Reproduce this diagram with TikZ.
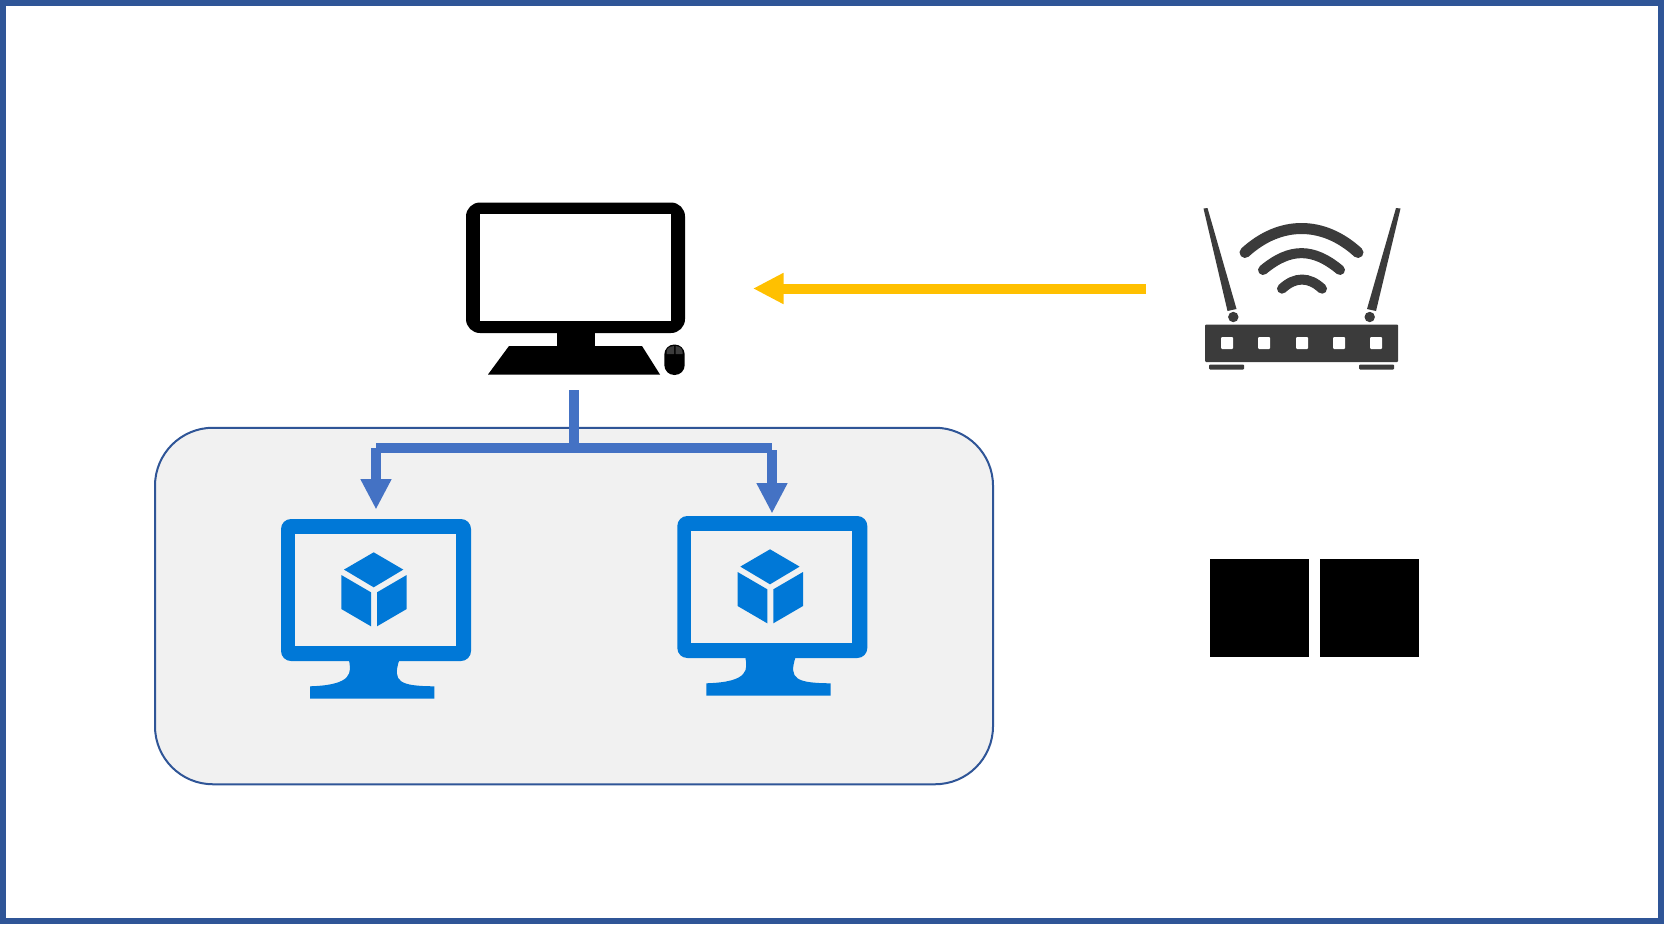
\documentclass[tikz,border=0pt]{standalone}
\usetikzlibrary{arrows.meta,calc}
\definecolor{framecol}{HTML}{2F5597}
\definecolor{panelcol}{HTML}{F1F1F1}
\definecolor{conncol}{HTML}{4472C4}
\definecolor{feedcol}{HTML}{FFC000}
\definecolor{vmcol}{HTML}{0078D7}
\definecolor{routercol}{HTML}{3B3B3B}
\tikzset{
  anchorbox/.style={inner sep=0pt,outer sep=0pt,minimum width=#1},
  panel/.style={draw=framecol,line width=2pt,fill=panelcol,rounded corners=58pt,inner sep=0pt,outer sep=0pt},
  blackbox/.style={fill=black,inner sep=0pt,outer sep=0pt,minimum width=99pt,minimum height=98.5pt},
  conn/.style={draw=conncol,line width=10pt},
  connarrow/.style={conn,-{Triangle[length=30.5pt,width=29pt,fill=conncol]}},
  feed/.style={draw=feedcol,line width=10pt,-{Triangle[length=30.5pt,width=29pt,fill=feedcol]}},
  wave/.style={draw=routercol,line cap=round},
  vmicon/.pic={
    \fill[vmcol,even odd rule,rounded corners=10pt] (281,519) rectangle (471,661);
    \fill[panelcol] (295,533.5) rectangle (456,645.5);
    \fill[vmcol] (349,660) .. controls (351,672) and (354,685) .. (310,686.3)
       -- (310,698.7) -- (434.3,698.7) -- (434.3,686.3)
       .. controls (400,686) and (392,682) .. (399.3,660) -- cycle;
    \fill[vmcol] (344,569.6) -- (373.7,552.3) -- (403.3,569.6) -- (373.7,587.3) -- cycle;
    \fill[vmcol] (341.3,575) -- (371,592.3) -- (371,626.3) -- (341.3,609) -- cycle;
    \fill[vmcol] (406.7,575) -- (377,592.3) -- (377,626.3) -- (406.7,609) -- cycle;
  }
}
\begin{document}
\begin{tikzpicture}[x=1pt,y=-1pt]
\useasboundingbox (0,0) rectangle (1664,924);
\fill[white] (0,0) rectangle (1664,924);
\draw[framecol,line width=6.2pt] (3.1,3.1) rectangle (1660.9,920.9);

% group panel
\node[panel,minimum width=838pt,minimum height=356.5pt] (group) at (574,606) {};

% desktop computer
\node[anchorbox=358pt,minimum height=203pt] (pc) at (574,288.5) {};
\fill[black,rounded corners=14pt] (466,202.5) rectangle (685,333);
\fill[white] (480,213.5) rectangle (671,320.5);
\fill[black] (557,330) rectangle (595,350);
\fill[black] (509,346) -- (642,346) -- (660,374.5) -- (488,374.5) -- cycle;
\fill[black,rounded corners=10pt] (664.3,344.5) rectangle (684.7,375);
\fill[routercol] (666.5,354) -- (666.5,352) .. controls (666.5,348.5) and (669,346.5) .. (674,346) -- (674,354) -- cycle;
\fill[routercol] (682.5,354) -- (682.5,352) .. controls (682.5,348.5) and (680,346.5) .. (675.5,346) -- (675.5,354) -- cycle;

% router
\node[anchorbox=304pt,minimum height=180pt] (router) at (1298,288.5) {};
\fill[routercol,rounded corners=1pt] (1205,324.5) rectangle (1398,362);
\foreach \cx in {1227,1264,1302,1339,1376}
  \fill[white,rounded corners=1pt] (\cx-6,337) rectangle (\cx+6,349);
\fill[routercol,rounded corners=1pt] (1209,364.5) rectangle (1244,369.5);
\fill[routercol,rounded corners=1pt] (1359,364.5) rectangle (1394,369.5);
\fill[routercol] (1203.5,208.5) -- (1207.5,208) -- (1236.5,309) -- (1227.5,311) -- cycle;
\fill[routercol] (1400.5,208.5) -- (1396,208) -- (1367,309) -- (1376,311) -- cycle;
\fill[routercol] (1233.3,317) circle (5.2pt);
\fill[routercol] (1369.7,317) circle (5.2pt);
\draw[wave,line width=11pt] (1245,252.5) .. controls (1280,220.5) and (1323,220.5) .. (1358,252.5);
\draw[wave,line width=10pt] (1263,270) .. controls (1290,247.5) and (1313,247.5) .. (1340,270);
\draw[wave,line width=10pt] (1282,288.7) .. controls (1295,276.5) and (1309,276.5) .. (1322,288.7);

% virtual machines
\node[anchorbox=190pt,minimum height=191pt] (vma) at (376,605) {};
\node[anchorbox=190pt,minimum height=191pt] (vmb) at (772,609) {};
\pic at (0,0) {vmicon};
\pic at (396.3,-3) {vmicon};

% black squares
\node[blackbox] (sqa) at (1259.5,608.2) {};
\node[blackbox] (sqb) at (1369,608.2) {};

% connectors
\coordinate (bus) at ($(pc.south)+(0,58)$);
\draw[feed] (router.west) -- (pc.east);
\draw[conn] (pc.south) -- (bus);
\draw[conn] (bus) -- (bus -| vma.north);
\draw[conn] (bus) -- (bus -| vmb.north);
\draw[connarrow] ($(bus -| vma.north)$) -- (vma.north);
\draw[connarrow] ($(bus -| vmb.north)+(0,2)$) -- (vmb.north);
\end{tikzpicture}
\end{document}
